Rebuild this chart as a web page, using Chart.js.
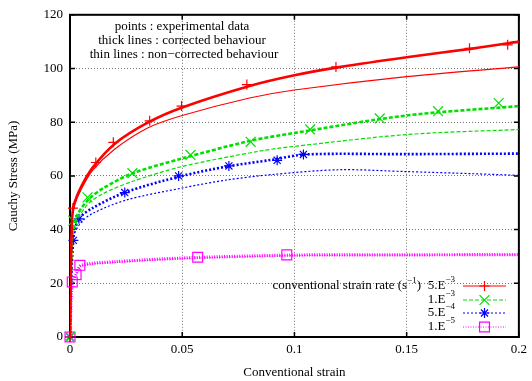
<!DOCTYPE html>
<html>
<head>
<meta charset="utf-8">
<script src="https://cdn.jsdelivr.net/npm/chart.js"></script>
<style>
  html, body { margin: 0; padding: 0; background: #fff; }
  #wrap { width: 532px; height: 381px; }
</style>
</head>
<body>
<div id="wrap"><canvas id="chart" width="532" height="381"></canvas></div>
<script>
// strain rates (s^-1) shown in legend
var rateLabels = ["5.E", "1.E", "5.E", "1.E"];
var rateExps = ["\u22123", "\u22123", "\u22124", "\u22125"];
var xTicks = [0, 0.05, 0.1, 0.15, 0.2];
var yTicks = [0, 20, 40, 60, 80, 100, 120];

// 5.E-3
var red_exp_x = [0, 0.0013, 0.0115, 0.0193, 0.0355, 0.0497, 0.0788, 0.1185, 0.178, 0.195];
var red_exp_y = [0, 48, 65, 72.5, 80.5, 86, 94, 100.6, 107.5, 108.8];
var red_thick_x = [0, 0.0005, 0.001, 0.002, 0.005, 0.01, 0.02, 0.035, 0.05, 0.08, 0.1, 0.12, 0.15, 0.18, 0.2];
var red_thick_y = [0, 30, 45, 50, 56, 63, 72, 80, 85.5, 93.5, 97.5, 100.5, 104.2, 107.5, 110];
var red_thin_x = [0, 0.0005, 0.001, 0.002, 0.005, 0.01, 0.02, 0.035, 0.05, 0.08, 0.1, 0.15, 0.2];
var red_thin_y = [0, 30, 44, 49, 55, 62, 70, 78, 82.5, 89, 92, 97, 100.6];

// 1.E-3
var green_exp_x = [0, 0.0015, 0.0078, 0.0278, 0.0537, 0.0805, 0.107, 0.138, 0.164, 0.191];
var green_exp_y = [0, 43.3, 52, 61, 67.8, 72.7, 77.3, 81.4, 84.1, 87.1];
var green_thick_x = [0, 0.001, 0.003, 0.008, 0.015, 0.028, 0.05, 0.08, 0.1, 0.15, 0.2];
var green_thick_y = [0, 38, 45, 51, 55.5, 61, 66.5, 73, 76, 82.5, 86];
var green_thin_x = [0, 0.001, 0.003, 0.008, 0.015, 0.028, 0.05, 0.085, 0.1, 0.15, 0.2];
var green_thin_y = [0, 36, 43, 49.5, 53.5, 58, 63.5, 69.3, 71, 75.4, 77.3];

// 5.E-4
var blue_exp_x = [0, 0.0015, 0.004, 0.0244, 0.0484, 0.0708, 0.0923, 0.104];
var blue_exp_y = [0, 36, 44, 53.8, 60, 63.7, 65.8, 68];
var blue_thick_x = [0, 0.001, 0.004, 0.01, 0.025, 0.05, 0.07, 0.09, 0.105, 0.15, 0.2];
var blue_thick_y = [0, 36, 44, 48, 54, 60, 63.5, 66, 68, 68.1, 68.3];
var blue_thin_x = [0, 0.002, 0.005, 0.01, 0.025, 0.05, 0.07, 0.09, 0.12, 0.15, 0.18, 0.2];
var blue_thin_y = [0, 38, 42.7, 46, 51, 55.5, 58.5, 60.5, 62.3, 61.6, 60.8, 60.2];

// 1.E-5
var mag_exp_x = [0, 0.001, 0.0027, 0.0044, 0.0569, 0.0966];
var mag_exp_y = [0, 20.5, 23.2, 26.7, 29.7, 30.6];
var mag_thick_x = [0, 0.001, 0.003, 0.005, 0.02, 0.05, 0.1, 0.15, 0.2];
var mag_thick_y = [0, 20, 24, 26.7, 28, 29.4, 30.5, 30.6, 30.7];
var mag_thin_x = [0, 0.001, 0.003, 0.005, 0.02, 0.05, 0.1, 0.15, 0.2];
var mag_thin_y = [0, 20, 23.8, 26.5, 27.8, 29.2, 30.3, 30.5, 30.6];

function pts(xs, ys) {
    return xs.map(function (x, i) { return { x: x, y: ys[i] }; });
}

var colors = ["#ff0000", "#00e000", "#0000ff", "#ff00ff"];
var dashes = [[], [4, 2], [2, 2], [1, 1.5]];
var markers = ["cross", "crossRot", "star", "rect"];
var markerRadius = [5, 7, 5, 7];
var thickWidth = [2.6, 2.6, 2.6, 3.2];

var series = [
    [red_exp_x, red_exp_y, red_thick_x, red_thick_y, red_thin_x, red_thin_y],
    [green_exp_x, green_exp_y, green_thick_x, green_thick_y, green_thin_x, green_thin_y],
    [blue_exp_x, blue_exp_y, blue_thick_x, blue_thick_y, blue_thin_x, blue_thin_y],
    [mag_exp_x, mag_exp_y, mag_thick_x, mag_thick_y, mag_thin_x, mag_thin_y]
];

var datasets = [];
series.forEach(function (s, i) {
    datasets.push({ data: pts(s[4], s[5]), showLine: true, borderColor: colors[i], borderWidth: 1.2,
        borderDash: dashes[i], pointRadius: 0, tension: 0.3, fill: false });
    datasets.push({ data: pts(s[2], s[3]), showLine: true, borderColor: colors[i], borderWidth: thickWidth[i],
        borderDash: dashes[i], pointRadius: 0, tension: 0.3, fill: false });
    datasets.push({ data: pts(s[0], s[1]), showLine: false, borderColor: colors[i], backgroundColor: "rgba(0,0,0,0)",
        pointStyle: markers[i], pointRadius: markerRadius[i], pointBorderWidth: 1.2, clip: false });
});

var serif = "'Liberation Serif', 'DejaVu Serif', serif";

function drawMarker(ctx, style, x, y, r) {
    ctx.beginPath();
    if (style === "cross" || style === "star") {
        ctx.moveTo(x - r, y); ctx.lineTo(x + r, y);
        ctx.moveTo(x, y - r); ctx.lineTo(x, y + r);
    }
    if (style === "crossRot" || style === "star") {
        var d = r * 0.707;
        ctx.moveTo(x - d, y - d); ctx.lineTo(x + d, y + d);
        ctx.moveTo(x - d, y + d); ctx.lineTo(x + d, y - d);
    }
    if (style === "rect") {
        var s = r * 0.707;
        ctx.rect(x - s, y - s, 2 * s, 2 * s);
    }
    ctx.stroke();
}

var framePlugin = {
    id: "frame",
    beforeDatasetsDraw: function (chart) {
        var ctx = chart.ctx, a = chart.chartArea;
        var xs = chart.scales.x, ys = chart.scales.y;
        ctx.save();
        ctx.strokeStyle = "#000";
        ctx.lineWidth = 2;
        ctx.setLineDash([]);
        ctx.strokeRect(a.left, a.top, a.right - a.left, a.bottom - a.top);
        // inward ticks
        ctx.lineWidth = 1.5;
        ctx.beginPath();
        xTicks.forEach(function (v) {
            var px = xs.getPixelForValue(v);
            ctx.moveTo(px, a.bottom); ctx.lineTo(px, a.bottom - 5);
            ctx.moveTo(px, a.top); ctx.lineTo(px, a.top + 5);
        });
        yTicks.forEach(function (v) {
            var py = ys.getPixelForValue(v);
            ctx.moveTo(a.left, py); ctx.lineTo(a.left + 5, py);
            ctx.moveTo(a.right, py); ctx.lineTo(a.right - 5, py);
        });
        ctx.stroke();
        ctx.restore();
    },
    afterDraw: function (chart) {
        var ctx = chart.ctx;
        ctx.save();
        // notes at top
        ctx.fillStyle = "#000";
        ctx.font = "13px " + serif;
        ctx.textAlign = "center";
        ctx.textBaseline = "middle";
        ctx.fillText("points : experimental data", 182, 27);
        ctx.fillText("thick lines : corrected behaviour", 182, 41);
        ctx.fillText("thin lines : non\u2212corrected behaviour", 184, 55);

        // legend
        var ly = [286, 300, 313, 327];
        var rx = 455;
        ctx.textAlign = "right";
        var t = "conventional strain rate (s";
        ctx.font = "9px " + serif;
        var supW = ctx.measureText("\u22121").width;
        ctx.font = "13px " + serif;
        var closeW = ctx.measureText(")").width;
        ctx.fillText(")", 421, ly[0]);
        ctx.font = "9px " + serif;
        ctx.fillText("\u22121", 421 - closeW, ly[0] - 5);
        ctx.font = "13px " + serif;
        ctx.fillText(t, 421 - closeW - supW, ly[0]);
        for (var i = 0; i < 4; i++) {
            ctx.fillStyle = "#000";
            ctx.font = "9px " + serif;
            var ew = ctx.measureText(rateExps[i]).width;
            ctx.fillText(rateExps[i], rx, ly[i] - 6);
            ctx.font = "13px " + serif;
            ctx.fillText(rateLabels[i], rx - ew, ly[i]);
            ctx.strokeStyle = colors[i];
            ctx.lineWidth = 1.2;
            ctx.setLineDash(dashes[i]);
            ctx.beginPath();
            ctx.moveTo(463, ly[i]); ctx.lineTo(506, ly[i]);
            ctx.stroke();
            ctx.setLineDash([]);
            drawMarker(ctx, markers[i], 484.5, ly[i], markerRadius[i]);
        }
        ctx.restore();
    }
};

new Chart(document.getElementById("chart"), {
    type: "scatter",
    data: { datasets: datasets },
    options: {
        responsive: false,
        animation: false,
        devicePixelRatio: 1,
        layout: { padding: { left: 0, top: 13, right: 11, bottom: 0 } },
        plugins: { legend: { display: false }, tooltip: { enabled: false } },
        scales: {
            x: {
                type: "linear", min: 0, max: 0.2,
                afterFit: function (s) { s.height = 44; },
                afterBuildTicks: function (s) { s.ticks = xTicks.map(function (v) { return { value: v }; }); },
                ticks: { color: "#000", font: { family: serif, size: 13 }, padding: 5,
                    callback: function (v) { return String(Math.round(v * 100) / 100); } },
                grid: { color: "#777", lineWidth: 1, drawTicks: false },
                border: { display: false, dash: [1, 2] },
                title: { display: true, text: "Conventional strain", color: "#000",
                    font: { family: serif, size: 13 }, padding: { top: 0, bottom: 1 } }
            },
            y: {
                type: "linear", min: 0, max: 120,
                afterFit: function (s) { s.width = 70; },
                afterBuildTicks: function (s) { s.ticks = yTicks.map(function (v) { return { value: v }; }); },
                ticks: { color: "#000", font: { family: serif, size: 13 }, padding: 7 },
                grid: { color: "#777", lineWidth: 1, drawTicks: false },
                border: { display: false, dash: [1, 2] },
                title: { display: true, text: "Cauchy Stress (MPa)", color: "#000",
                    font: { family: serif, size: 13 }, padding: { top: 6, bottom: 0 } }
            }
        }
    },
    plugins: [framePlugin]
});
</script>
</body>
</html>
